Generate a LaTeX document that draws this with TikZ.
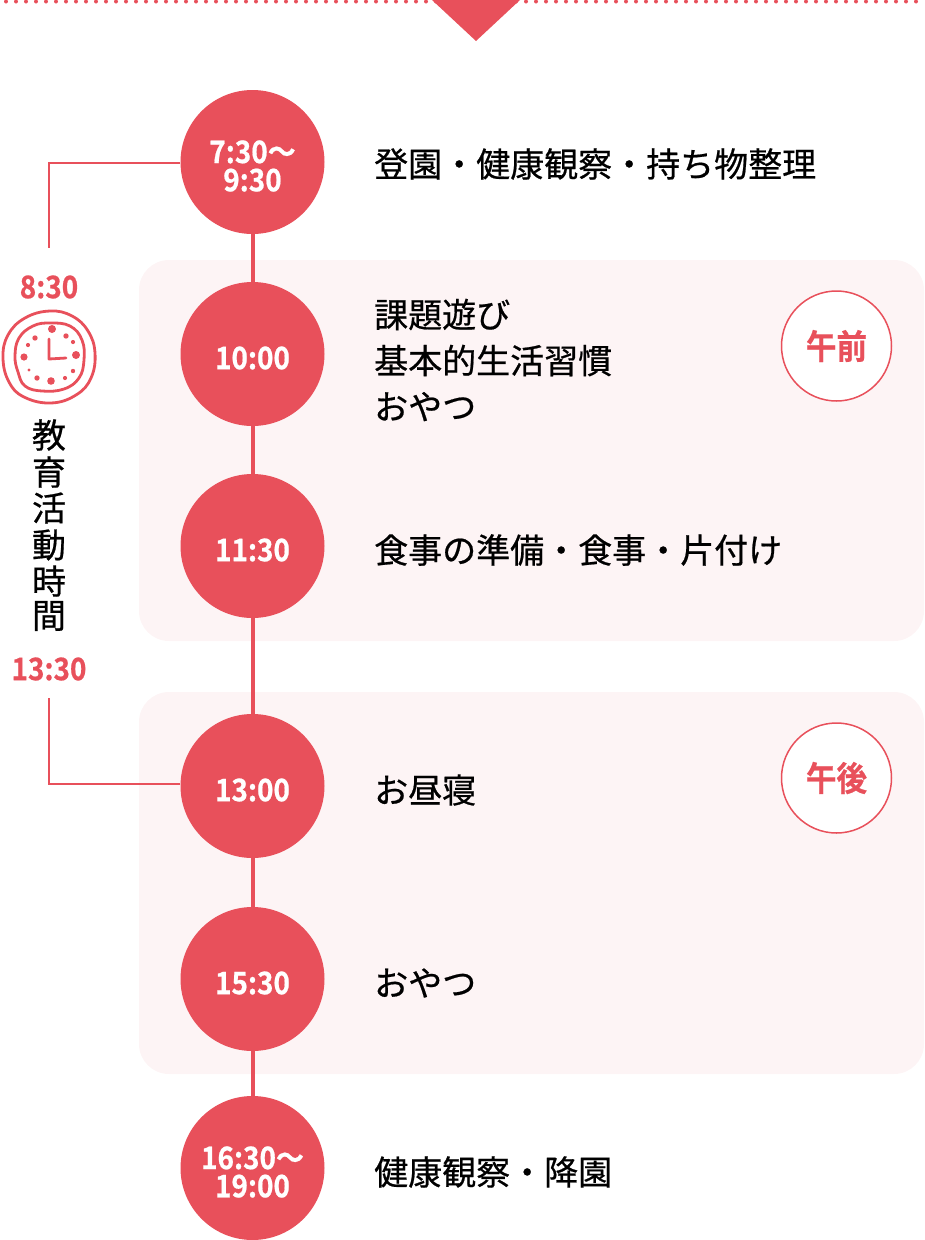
\documentclass[tikz,border=0pt]{standalone}
\usepackage{fontspec}
\setmainfont{Noto Sans CJK JP}[FakeBold=0.6,BoldFont={Noto Sans CJK JP Bold},BoldFeatures={FakeStretch=0.9}]
\usetikzlibrary{positioning,calc}
\definecolor{hoikured}{HTML}{E8505B}
\definecolor{hoikupink}{HTML}{FDF4F5}
\newcommand{\timetext}[1]{\raisebox{0pt}[\dimexpr\height+8pt\relax][\depth]{#1}}
\tikzset{
  timecircle/.style={circle, fill=hoikured, text=white, minimum size=144pt, inner sep=0pt, align=center, font=\fontsize{31}{28}\selectfont\bfseries},
  activity/.style={anchor=west, inner sep=0pt, align=left, text=black, font=\fontsize{34}{46}\selectfont},
  halfday/.style={circle, draw=hoikured, line width=1.5pt, fill=white, text=hoikured, minimum size=110pt, inner sep=0pt, font=\fontsize{34}{34}\selectfont\bfseries},
  clocktime/.style={text=hoikured, inner sep=0pt, font=\fontsize{31}{31}\selectfont\bfseries},
  vchar/.style={text=black, inner sep=0pt, font=\fontsize{34}{34}\selectfont},
  timeline/.style={hoikured, line width=4pt},
  bracket/.style={hoikured, line width=1.5pt},
  clockline/.style={hoikured, line width=2.8pt, line cap=round, line join=round}
}
\begin{document}
\begin{tikzpicture}[x=1pt, y=-1pt]
    \useasboundingbox (0,0) rectangle (924,1240);

    % Dotted rule and arrow at the top
    \foreach \dotx in {6,16,...,924}
        \fill[hoikured] (\dotx,1.5) circle (2pt);
    \fill[hoikured] (432,0) -- (520,0) -- (476,41) -- cycle;

    % Morning and afternoon panels
    \fill[hoikupink, rounded corners=30pt] (139,260) rectangle (924,641);
    \fill[hoikupink, rounded corners=30pt] (139,692) rectangle (924,1074);

    % Time circles
    \node[timecircle] (t0730) at (252.5,162) {\timetext{\shortstack{7:30〜\\[2pt]9:30}}};
    \node[timecircle] (t1000) at (252.5,354) {\timetext{10:00}};
    \node[timecircle] (t1130) at (252.5,546) {\timetext{11:30}};
    \node[timecircle] (t1300) at (252.5,786) {\timetext{13:00}};
    \node[timecircle] (t1530) at (252.5,979) {\timetext{15:30}};
    \node[timecircle] (t1630) at (252.5,1168) {\timetext{\shortstack{16:30〜\\[2pt]19:00}}};

    % Timeline between circles
    \draw[timeline] (t0730) -- (t1000);
    \draw[timeline] (t1000) -- (t1130);
    \draw[timeline] (t1130) -- (t1300);
    \draw[timeline] (t1300) -- (t1530);
    \draw[timeline] (t1530) -- (t1630);

    % Activities
    \node[activity] (act0730) at (374,164) {登園・健康観察・持ち物整理};
    \node[activity] (act1000) at (374,360) {課題遊び\\基本的生活習慣\\おやつ};
    \node[activity] (act1130) at (374,550) {食事の準備・食事・片付け};
    \node[activity] (act1300) at (374,790) {お昼寝};
    \node[activity] (act1530) at (374,983) {おやつ};
    \node[activity] (act1630) at (374,1172) {健康観察・降園};

    % Morning and afternoon badges
    \node[halfday] (gozen) at (836.5,346) {午前};
    \node[halfday] (gogo) at (836.5,778) {午後};

    % Education hours on the left
    \node[clocktime] (start) at (49,287) {8:30};
    \node[clocktime] (end) at (49,669) {13:30};
    \coordinate (starttop) at (49,248);
    \coordinate (endbottom) at (49,698);
    \draw[bracket] (t0730.west |- 0,163) -| (starttop);
    \draw[bracket] (t1300.west |- 0,784) -| (endbottom);

    \node[vchar] (v1) at (49,435) {教};
    \node[vchar] (v2) at (49,472) {育};
    \node[vchar] (v3) at (49,508) {活};
    \node[vchar] (v4) at (49,545) {動};
    \node[vchar] (v5) at (49,581) {時};
    \node[vchar] (v6) at (49,616) {間};

    % Hand-drawn clock
    \draw[clockline] plot[smooth cycle, tension=0.7] coordinates {(50,311) (72,316) (88,331) (95,353) (91,378) (76,395) (51,403) (24,397) (9,382) (3,358) (8,335) (25,318)};
    \draw[clockline] plot[smooth cycle, tension=0.7] coordinates {(50,323) (70,326) (82,340) (84,360) (79,378) (64,389) (42,391) (25,386) (18,372) (15,356) (19,338) (33,326)};
    \draw[clockline] (49,339) -- (49,359) -- (66,358);
    \foreach \dotx/\doty/\dotr in {52/329/4, 66/336/2.7, 73/342/2.1, 76/355/4, 73/371/2.2, 65/378/2.1, 51/381/3.8, 37/378/2.7, 29/370/1.6, 24/357/3.6, 28/345/2.1, 35/338/2.7}
        \fill[hoikured] (\dotx,\doty) circle (\dotr pt);
\end{tikzpicture}
\end{document}
